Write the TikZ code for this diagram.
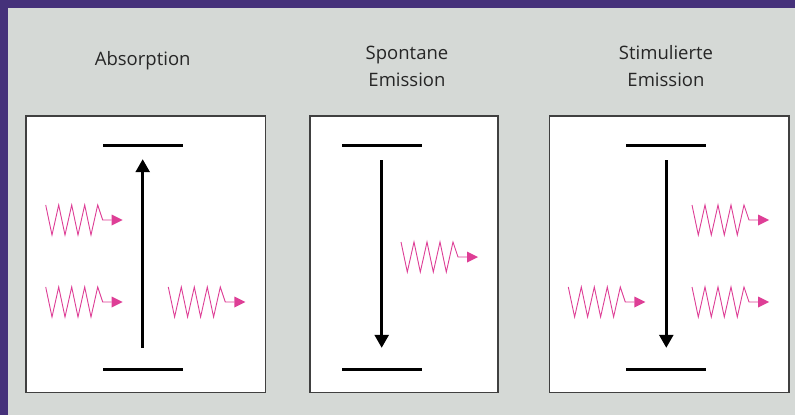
\documentclass[tikz,border=0pt]{standalone}
\usepackage{fontspec}
\setmainfont{Open Sans}
\usetikzlibrary{arrows.meta}

\definecolor{rahmen}{RGB}{69,49,122}
\definecolor{grund}{RGB}{213,217,214}
\definecolor{photon}{RGB}{222,62,150}

\begin{document}
\begin{tikzpicture}[x=1pt, y=-1pt]
  \tikzset{
  titel/.style = {anchor = base, font = \fontsize{18.5}{27.5}\selectfont,
    text = black!85, align = center},
  kasten/.style = {draw = black!75, line width = 1.3pt, fill = white},
  niveau/.style = {shape = rectangle, fill = black, inner sep = 0pt,
    minimum width = 80pt, minimum height = 3pt},
  uebergang/.style = {line width = 2.6pt,
    -{Triangle[length = 13pt, width = 14pt]}},
  photon/.pic = {
    \draw[photon, line width = 0.9pt, line join = miter]
      (0,-15) -- (6.3,15) -- (13,-15) -- (19.3,15) -- (26,-15)
      -- (32.3,15) -- (39,-15) -- (45.3,15) -- (52,-15) -- (57,0)
      -- (66,0);
    \fill[photon] (66,-5.5) -- (77,0) -- (66,5.5) -- cycle;
  }}
  % Hintergrund und Rahmen
  \fill[rahmen] (0,0) rectangle (795,415);
  \fill[grund] (8,7.5) rectangle (795,415);
  \useasboundingbox (0,0) rectangle (795,415);
  % Kaesten
  \draw[kasten] (26,116) rectangle (265.5,392.5);
  \draw[kasten] (310,116) rectangle (498,392.5);
  \draw[kasten] (549.5,116) rectangle (789,392.5);
  % Titel
  \node[titel] (tabs) at (142.7,65.5) {Absorption};
  \node[titel] (tspo) at (407,86.5) {Spontane\\Emission};
  \node[titel] (tsti) at (666,86.5) {Stimulierte\\Emission};
  % Niveaus
  \node[niveau] (oben1) at (142.7,145.5) {};
  \node[niveau] (unten1) at (142.7,369.5) {};
  \node[niveau] (oben2) at (381.7,145.5) {};
  \node[niveau] (unten2) at (381.7,369.5) {};
  \node[niveau] (oben3) at (666.3,145.5) {};
  \node[niveau] (unten3) at (666.3,369.5) {};
  % Uebergaenge
  \draw[uebergang, shorten <= 20pt, shorten >= 12pt] (unten1) -- (oben1);
  \draw[uebergang, shorten <= 13pt, shorten >= 20pt] (oben2) -- (unten2);
  \draw[uebergang, shorten <= 13pt, shorten >= 20pt] (oben3) -- (unten3);
  % Photonen
  \pic (ph1) at (45.7,220) {photon};
  \pic (ph2) at (45.7,302) {photon};
  \pic (ph3) at (168.3,302) {photon};
  \pic (ph4) at (401,257) {photon};
  \pic (ph5) at (568.3,302) {photon};
  \pic (ph6) at (692,220) {photon};
  \pic (ph7) at (692,302) {photon};
\end{tikzpicture}
\end{document}
